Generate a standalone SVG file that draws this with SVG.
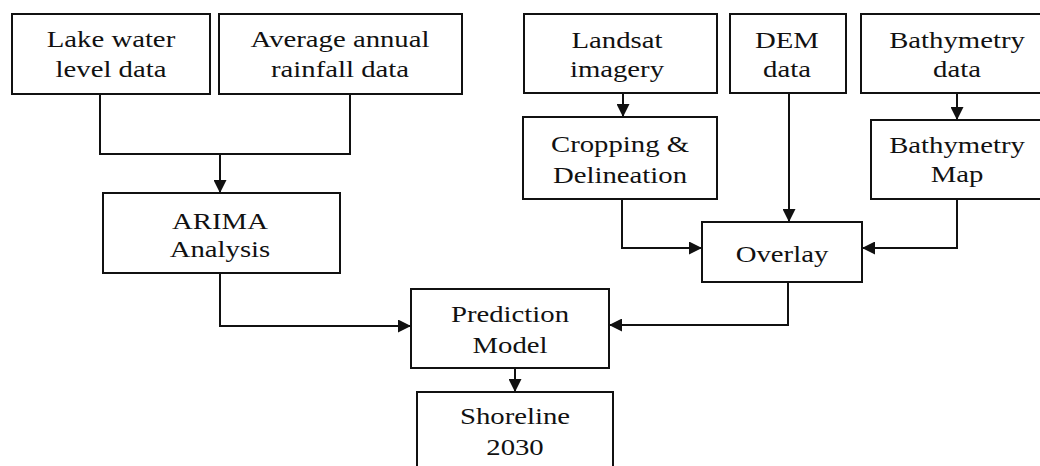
<svg xmlns="http://www.w3.org/2000/svg" width="1040" height="466" viewBox="0 0 1040 466">
<style>
.box{fill:#fff;stroke:#111;stroke-width:2}
.t{font-family:"Liberation Serif","Times New Roman",serif;font-size:23px;fill:#111;text-anchor:middle}
.c{fill:none;stroke:#111;stroke-width:2}
</style>
<defs>
<marker id="ah" markerUnits="userSpaceOnUse" markerWidth="13" markerHeight="13" viewBox="0 0 13 13" refX="13" refY="6.5" orient="auto">
<path d="M0,0 L13,6.5 L0,13 Z" fill="#111"/>
</marker>
</defs>
<rect width="1040" height="466" fill="#fff"/>
<g id="connectors">
<path class="c" d="M100,95 V154 H350 V95"/>
<path class="c" d="M220,154 V193" marker-end="url(#ah)"/>
<path class="c" d="M623,94 V117" marker-end="url(#ah)"/>
<path class="c" d="M789,94 V222" marker-end="url(#ah)"/>
<path class="c" d="M957,94 V120" marker-end="url(#ah)"/>
<path class="c" d="M622,200 V248 H702" marker-end="url(#ah)"/>
<path class="c" d="M957,200 V248 H862" marker-end="url(#ah)"/>
<path class="c" d="M220,274 V326 H411" marker-end="url(#ah)"/>
<path class="c" d="M788,283 V325 H609" marker-end="url(#ah)"/>
<path class="c" d="M515,369 V392" marker-end="url(#ah)"/>
</g>
<g id="lake"><rect class="box" x="12" y="14" width="198" height="80"/>
<text class="t" transform="translate(111,0) scale(1.25,1)" y="47">Lake water</text>
<text class="t" transform="translate(111,0) scale(1.25,1)" y="77">level data</text></g>
<g id="rainfall"><rect class="box" x="219" y="14" width="243" height="80"/>
<text class="t" transform="translate(340,0) scale(1.25,1)" y="47">Average annual</text>
<text class="t" transform="translate(340,0) scale(1.25,1)" y="77">rainfall data</text></g>
<g id="landsat"><rect class="box" x="524" y="14" width="193" height="79"/>
<text class="t" transform="translate(617,0) scale(1.25,1)" y="48">Landsat</text>
<text class="t" transform="translate(617,0) scale(1.25,1)" y="77">imagery</text></g>
<g id="dem"><rect class="box" x="730" y="14" width="116" height="79"/>
<text class="t" transform="translate(787,0) scale(1.25,1)" y="48">DEM</text>
<text class="t" transform="translate(787,0) scale(1.25,1)" y="77">data</text></g>
<g id="bathydata"><rect class="box" x="861" y="14" width="192" height="79"/>
<text class="t" transform="translate(957,0) scale(1.25,1)" y="48">Bathymetry</text>
<text class="t" transform="translate(957,0) scale(1.25,1)" y="77">data</text></g>
<g id="cropping"><rect class="box" x="523" y="117" width="194" height="82"/>
<text class="t" transform="translate(620,0) scale(1.25,1)" y="152">Cropping &amp;</text>
<text class="t" transform="translate(620,0) scale(1.25,1)" y="183">Delineation</text></g>
<g id="bathymap"><rect class="box" x="871" y="120" width="182" height="79"/>
<text class="t" transform="translate(957,0) scale(1.25,1)" y="153">Bathymetry</text>
<text class="t" transform="translate(957,0) scale(1.25,1)" y="182">Map</text></g>
<g id="arima"><rect class="box" x="103" y="193" width="237" height="80"/>
<text class="t" transform="translate(220,0) scale(1.25,1)" y="229">ARIMA</text>
<text class="t" transform="translate(220,0) scale(1.25,1)" y="257">Analysis</text></g>
<g id="overlay"><rect class="box" x="702" y="222" width="160" height="60"/>
<text class="t" transform="translate(782,0) scale(1.25,1)" y="262">Overlay</text></g>
<g id="prediction"><rect class="box" x="411" y="289" width="198" height="79"/>
<text class="t" transform="translate(510,0) scale(1.25,1)" y="322">Prediction</text>
<text class="t" transform="translate(510,0) scale(1.25,1)" y="353">Model</text></g>
<g id="shoreline"><rect class="box" x="417" y="392" width="196" height="90"/>
<text class="t" transform="translate(515,0) scale(1.25,1)" y="424">Shoreline</text>
<text class="t" transform="translate(515,0) scale(1.25,1)" y="455">2030</text></g>
</svg>
